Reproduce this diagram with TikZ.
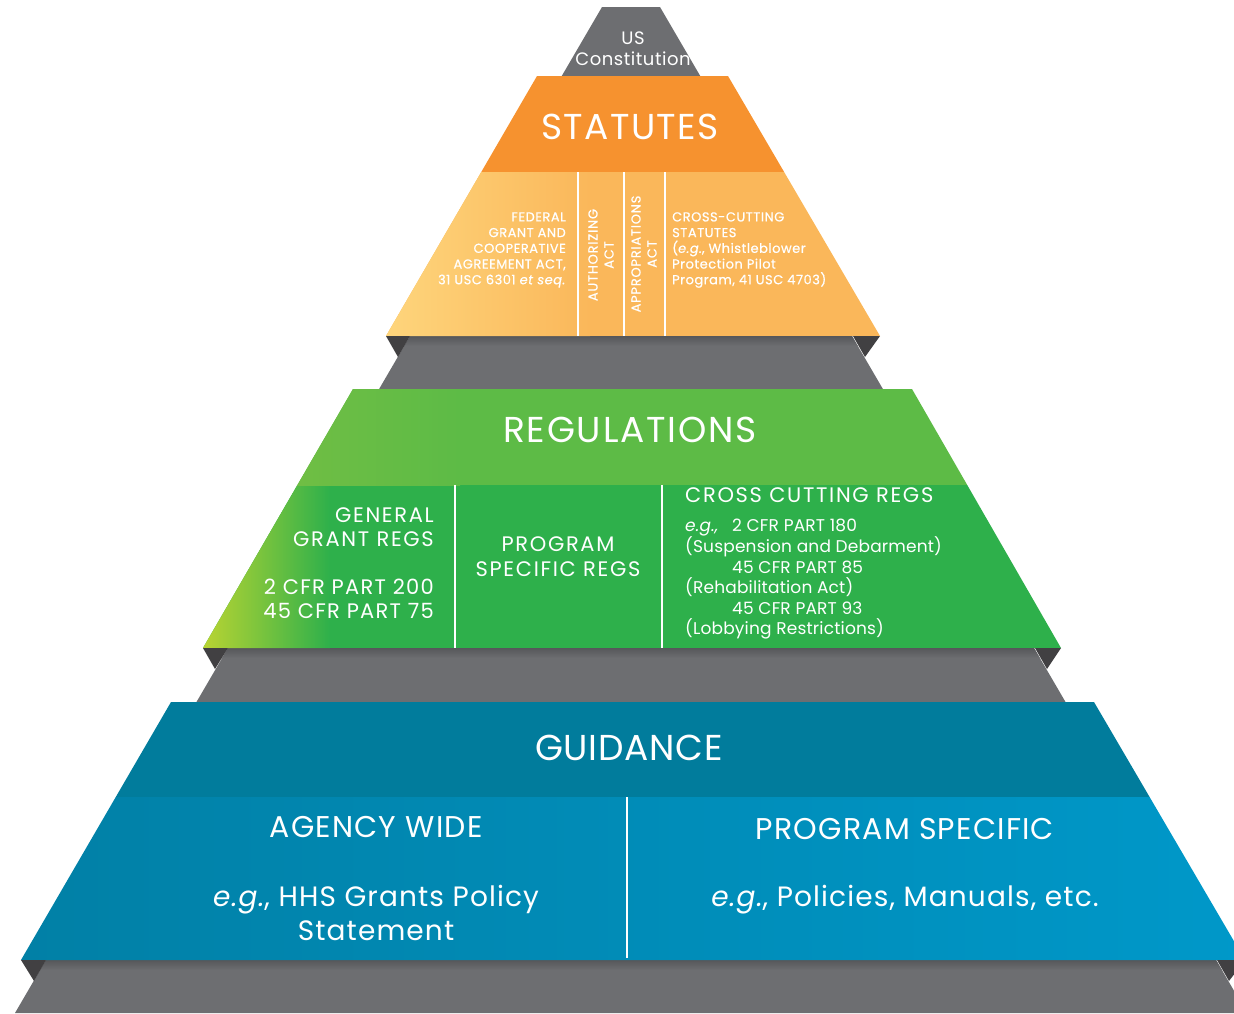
\documentclass[tikz,border=0pt]{standalone}
\usepackage{fontspec}
\setmainfont{Poppins}
\definecolor{pyrgray}{HTML}{6D6E71}
\definecolor{pyrdark}{HTML}{414042}
\definecolor{shadegray}{HTML}{56575A}
\definecolor{orangeTop}{HTML}{F6922F}
\definecolor{orangeLow}{HTML}{FAB75A}
\definecolor{orangeLeft}{HTML}{FED57C}
\definecolor{greenTop}{HTML}{5DBB46}
\definecolor{greenTopL}{HTML}{70BE44}
\definecolor{greenLow}{HTML}{2EB04B}
\definecolor{greenLeft}{HTML}{B9D432}
\definecolor{blueTop}{HTML}{017C9C}
\definecolor{blueLowL}{HTML}{0180A6}
\definecolor{blueLowR}{HTML}{0098C9}
% font set-ups: size, line distance, extra tracking
\newcommand{\fsz}[3]{\fontsize{#1}{#2}\selectfont\addfontfeatures{LetterSpace=#3}}
\newcommand{\fszb}[3]{\fontsize{#1}{#2}\selectfont\addfontfeatures{LetterSpace=#3,FakeBold=0.6}}
\begin{document}
\begin{tikzpicture}[x=1pt,y=-1pt,
  lbl/.style={text=white, inner sep=0pt},
  divider/.style={draw=white, line width=1.8pt},
  facet/.style={fill=pyrdark},
]
\useasboundingbox (0,0) rectangle (1234,1013);
\clip (0,0) rectangle (1234,1013);

% grey pyramid body
\fill[pyrgray] (602,7) -- (660,7) -- (1247,1013) -- (15,1013) -- cycle;
% soft shadows cast by the slabs onto the body
\begin{scope}
  \clip (602,7) -- (660,7) -- (1247,1013) -- (15,1013) -- cycle;
  \shade[top color=shadegray, bottom color=pyrgray] (0,336) rectangle (1234,346);
  \shade[top color=shadegray, bottom color=pyrgray] (0,648) rectangle (1234,658);
  \shade[top color=shadegray, bottom color=pyrgray] (0,960) rectangle (1234,970);
\end{scope}

% ---- statutes slab
\begin{scope}
  \clip (537,76) -- (728,76) -- (880,336) -- (386,336) -- cycle;
  \fill[orangeLow] (370,172) rectangle (900,336);
  \shade[left color=orangeLeft, right color=orangeLow] (386,172) rectangle (590,336);
  \fill[orangeTop] (370,76) rectangle (900,172);
\end{scope}
\fill[facet] (386,336) -- (410,336) -- (398,357) -- cycle;
\fill[facet] (880,336) -- (853,336) -- (865,357) -- cycle;
\draw[divider] (578,172) -- (578,336);
\draw[divider] (624,172) -- (624,336);
\draw[divider] (665,172) -- (665,336);

% ---- regulations slab
\begin{scope}
  \clip (353,389) -- (912,389) -- (1061,648) -- (203,648) -- cycle;
  \fill[greenLow] (190,485) rectangle (1070,648);
  \shade[left color=greenLeft, right color=greenLow] (203,485) rectangle (330,648);
  \fill[greenTop] (190,389) rectangle (1070,485);
  \shade[left color=greenTopL, right color=greenTop] (290,389) rectangle (460,485);
\end{scope}
\fill[facet] (203,648) -- (228,648) -- (215,669) -- cycle;
\fill[facet] (1061,648) -- (1035,648) -- (1047,669) -- cycle;
\draw[divider] (455,485) -- (455,648);
\draw[divider] (662,485) -- (662,648);

% ---- guidance slab
\begin{scope}
  \clip (171,702) -- (1094,702) -- (1245,960) -- (21,960) -- cycle;
  \shade[left color=blueLowL, right color=blueLowR] (21,797) rectangle (1245,960);
  \fill[blueTop] (0,702) rectangle (1250,797);
\end{scope}
\fill[facet] (21,960) -- (46,960) -- (34,981) -- cycle;
\fill[facet] (1245,960) -- (1217,960) -- (1229,981) -- cycle;
\draw[divider] (627,797) -- (627,958);

% ---- labels
\node[lbl, align=center, font=\fsz{18}{21}{3}] (usc) at (633,49) {US\\Constitution};

\node[lbl, font=\fsz{36}{40}{4}] (stat) at (630,127) {STATUTES};
\node[lbl, anchor=east, align=right, font=\fszb{13}{15.7}{4}] (fgca) at (566,250)
  {FEDERAL\\GRANT AND\\COOPERATIVE\\AGREEMENT ACT,\\31 USC 6301 \textit{et seq.}};
\node[lbl, rotate=90, align=center, font=\fszb{13}{16}{6}] (auth) at (601,255) {AUTHORIZING\\ACT};
\node[lbl, rotate=90, align=center, font=\fszb{13}{16}{6}] (approp) at (644,254) {APPROPRIATIONS\\ACT};
\node[lbl, anchor=west, align=left, font=\fszb{13}{15.7}{4}] (cross) at (672,250)
  {CROSS-CUTTING\\STATUTES\\(\textit{e.g.}, Whistleblower\\Protection Pilot\\Program, 41 USC 4703)};

\node[lbl, font=\fsz{36}{40}{5}] (regs) at (630,430) {REGULATIONS};
\node[lbl, anchor=east, align=right, font=\fsz{21}{24.5}{8}] (genl) at (434,527) {GENERAL\\GRANT REGS};
\node[lbl, anchor=east, align=right, font=\fsz{21}{23.5}{6}] (cfr) at (434,599) {2 CFR PART 200\\45 CFR PART 75};
\node[lbl, align=center, font=\fsz{21}{25}{8}] (psr) at (558,557) {PROGRAM\\SPECIFIC REGS};
\node[lbl, anchor=west, font=\fsz{21}{24}{8}] (ccr) at (685,495) {CROSS CUTTING REGS};
\node[lbl, anchor=west, align=left, font=\fsz{17}{20.4}{1}] (ccrlist) at (685,579)
  {\makebox[47pt][l]{\textit{e.g.,}}2 CFR PART 180\\(Suspension and Debarment)\\\hspace*{47pt}45 CFR PART 85\\(Rehabilitation Act)\\\hspace*{47pt}45 CFR PART 93\\(Lobbying Restrictions)};

\node[lbl, font=\fsz{36}{40}{2}] (guid) at (629,748) {GUIDANCE};
\node[lbl, font=\fsz{30}{34}{4}] (agency) at (376,827) {AGENCY WIDE};
\node[lbl, align=center, font=\fsz{28}{34}{4}] (hhs) at (376,913) {\textit{e.g.}, HHS Grants Policy\\Statement};
\node[lbl, font=\fsz{30}{34}{4}] (progspec) at (905,829) {PROGRAM SPECIFIC};
\node[lbl, font=\fsz{28}{34}{4}] (pol) at (905,900) {\textit{e.g.}, Policies, Manuals, etc.};
\end{tikzpicture}
\end{document}
